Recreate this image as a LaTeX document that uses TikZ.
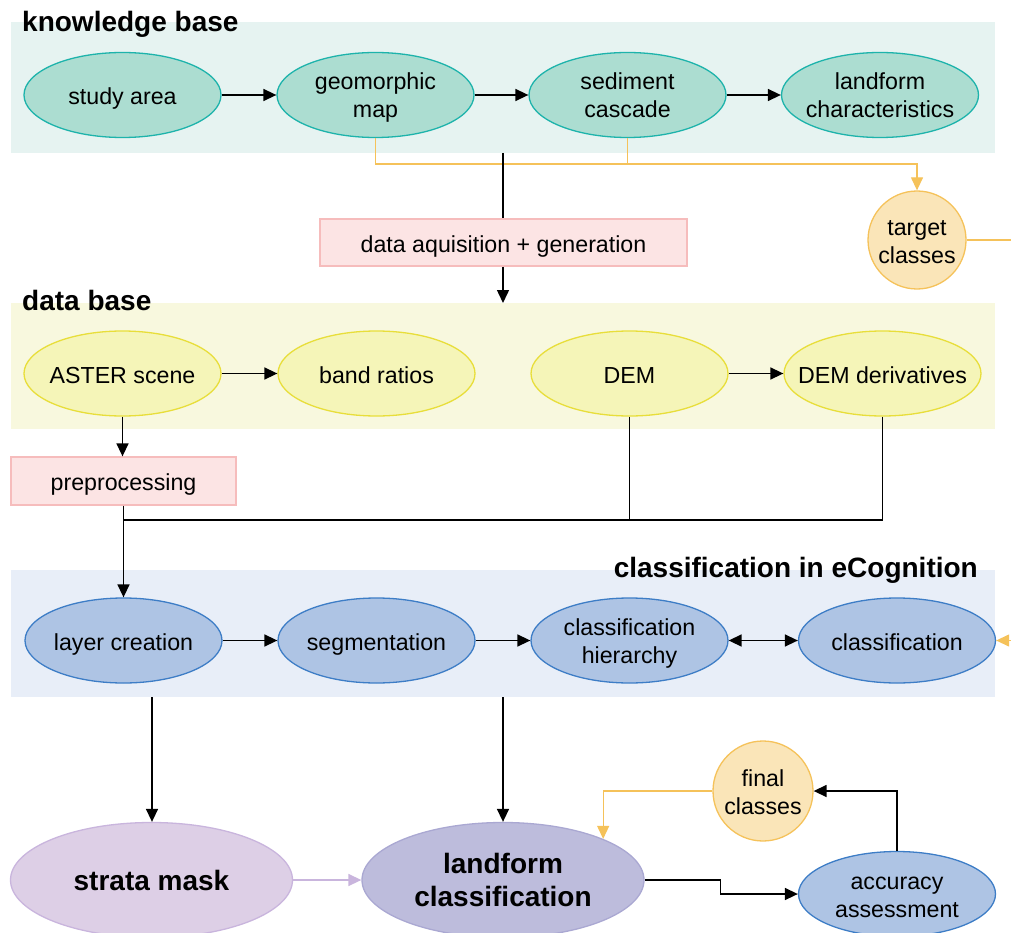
\documentclass[tikz,border=0pt]{standalone}
\usepackage{fontspec}
\setmainfont{Liberation Sans}
\usetikzlibrary{shapes.geometric,arrows.meta}
\definecolor{kbbg}{HTML}{E6F3F1}
\definecolor{kbfill}{HTML}{ACDDD1}
\definecolor{kbline}{HTML}{1DB3AB}
\definecolor{dbbg}{HTML}{F8F8DE}
\definecolor{dbfill}{HTML}{F5F5B8}
\definecolor{dbline}{HTML}{E8DE3A}
\definecolor{clbg}{HTML}{E8EEF8}
\definecolor{clfill}{HTML}{AEC4E4}
\definecolor{clline}{HTML}{3D7DC6}
\definecolor{pkfill}{HTML}{FCE4E4}
\definecolor{pkline}{HTML}{F6BCBC}
\definecolor{ornline}{HTML}{F5C25A}
\definecolor{ornfill}{HTML}{FAE5B8}
\definecolor{smfill}{HTML}{DDCFE6}
\definecolor{smline}{HTML}{C9B5DD}
\definecolor{lcfill}{HTML}{BDBCDC}
\definecolor{lcline}{HTML}{AAA8D2}
\begin{document}
\begin{tikzpicture}[x=1pt,y=-1pt,
  every node/.style={font=\fontsize{23.2}{28}\selectfont, text=black},
  txtpos/.style 2 args={execute at begin node={\rule{0pt}{#1}}, execute at end node={\rule[-#2]{0pt}{#2}}},
  oneline/.style={txtpos={24pt}{5pt}},
  twoline/.style={align=center, txtpos={51pt}{5pt}},
  ell/.style={ellipse, minimum width=197pt, minimum height=85pt, inner xsep=-20pt, inner ysep=-8pt, line width=1.3pt},
  kbnode/.style={ell, fill=kbfill, draw=kbline},
  dbnode/.style={ell, fill=dbfill, draw=dbline},
  clnode/.style={ell, fill=clfill, draw=clline},
  bignode/.style={ell, minimum width=282pt, minimum height=115pt, inner ysep=-20pt, font=\fontsize{28}{33}\selectfont\bfseries},
  pbox/.style={rectangle, fill=pkfill, draw=pkline, line width=1.3pt, inner sep=0pt, oneline},
  circnode/.style={circle, fill=ornfill, draw=ornline, line width=1.3pt, inner sep=-10pt, twoline},
  grptitle/.style={font=\fontsize{28}{33}\selectfont\bfseries, inner sep=0pt},
  link/.style={line width=1.5pt},
  conn/.style={line width=1.5pt, -{Triangle[length=13pt,width=12pt]}},
  oconn/.style={line width=1.3pt, draw=ornline, -{Triangle[length=13pt,width=12pt]}},
]
\useasboundingbox (0,0) rectangle (1011,933);
\clip (0,0) rectangle (1011,933);

% group backgrounds
\fill[kbbg] (11,22) rectangle (995,153);
\fill[dbbg] (11,303) rectangle (995,429);
\fill[clbg] (11,570) rectangle (995,697);

\node[grptitle, anchor=base west] (tkb) at (22,31.5) {knowledge base};
\node[grptitle, anchor=base west] (tdb) at (22,310) {data base};
\node[grptitle, anchor=base east] (tcl) at (978,577) {classification in eCognition};

% knowledge base
\node[kbnode, oneline] (study) at (122.5,95) {study area};
\node[kbnode, twoline] (geo) at (375.5,95) {geomorphic\\map};
\node[kbnode, twoline] (sed) at (627.5,95) {sediment\\cascade};
\node[kbnode, twoline] (land) at (880,95) {landform\\characteristics};

\node[circnode, minimum size=98pt] (target) at (917,240) {target\\classes};
\node[pbox, minimum width=367pt, minimum height=47pt] (acq) at (503.5,242.5) {data aquisition + generation};

% data base
\node[dbnode, oneline] (aster) at (122.5,373.5) {ASTER scene};
\node[dbnode, oneline] (band) at (376.5,373.5) {band ratios};
\node[dbnode, oneline] (dem) at (629.5,373.5) {DEM};
\node[dbnode, oneline] (demd) at (882.5,373.5) {DEM derivatives};
\node[pbox, minimum width=225pt, minimum height=48pt] (pre) at (123.5,481) {preprocessing};

% classification
\node[clnode, oneline] (layer) at (123.5,640.5) {layer creation};
\node[clnode, oneline] (seg) at (376.5,640.5) {segmentation};
\node[clnode, twoline] (hier) at (629.5,640.5) {classification\\hierarchy};
\node[clnode, oneline] (cls) at (897,640.5) {classification};

% bottom
\node[bignode, fill=smfill, draw=smline, txtpos={26pt}{5pt}] (strata) at (151.5,880) {strata mask};
\node[bignode, fill=lcfill, draw=lcline, align=center, txtpos={57pt}{5pt}] (lform) at (503,880) {landform\\classification};
\node[circnode, minimum size=100pt] (final) at (763,791) {final\\classes};
\node[clnode, twoline] (acc) at (897,894) {accuracy\\assessment};

% helper coordinates
\coordinate (kbbot) at (503,153);
\coordinate (dbtop) at (503,303);
\coordinate (oy) at (0,164);
\coordinate (jy) at (0,520);
\coordinate (offr) at (1030,0);
\coordinate (clbotA) at (152,697);
\coordinate (clbotB) at (503,697);
\coordinate (midx) at (720.7,0);

% knowledge base connectors
\draw[conn] (study) -- (geo);
\draw[conn] (geo) -- (sed);
\draw[conn] (sed) -- (land);
\draw[oconn] (geo.south) -- (geo.south |- oy) -| (target.north);
\draw[line width=1.3pt, draw=ornline] (sed.south) -- (sed.south |- oy);
\draw[oconn] (target.east) -| (offr |- cls.east) -- (cls.east);
\draw[link] (kbbot) -- (kbbot |- acq.north);
\draw[conn] (kbbot |- acq.south) -- (dbtop);

% data base connectors
\draw[conn] (aster) -- (band);
\draw[conn] (dem) -- (demd);
\draw[conn] (aster.south) -- (aster.south |- pre.north);
\draw[link] (dem.south) -- (dem.south |- jy);
\draw[link] (demd.south) -- (demd.south |- jy) -- (pre.south |- jy);
\draw[conn] (pre.south) -- (pre.south |- layer.north);

% classification connectors
\draw[conn] (layer) -- (seg);
\draw[conn] (seg) -- (hier);
\draw[line width=1.5pt, {Triangle[length=13pt,width=12pt]}-{Triangle[length=13pt,width=12pt]}] (hier) -- (cls);
\draw[conn] (clbotA) -- (clbotA |- strata.north);
\draw[conn] (clbotB) -- (lform.north);

% bottom connectors
\draw[conn, draw=smline] (strata) -- (lform);
\draw[conn] (lform.east) -| (midx |- acc.west) -- (acc.west);
\draw[conn] (acc.north) |- (final.east);
\draw[oconn] (final.west) -| (lform.north east);
\end{tikzpicture}
\end{document}
